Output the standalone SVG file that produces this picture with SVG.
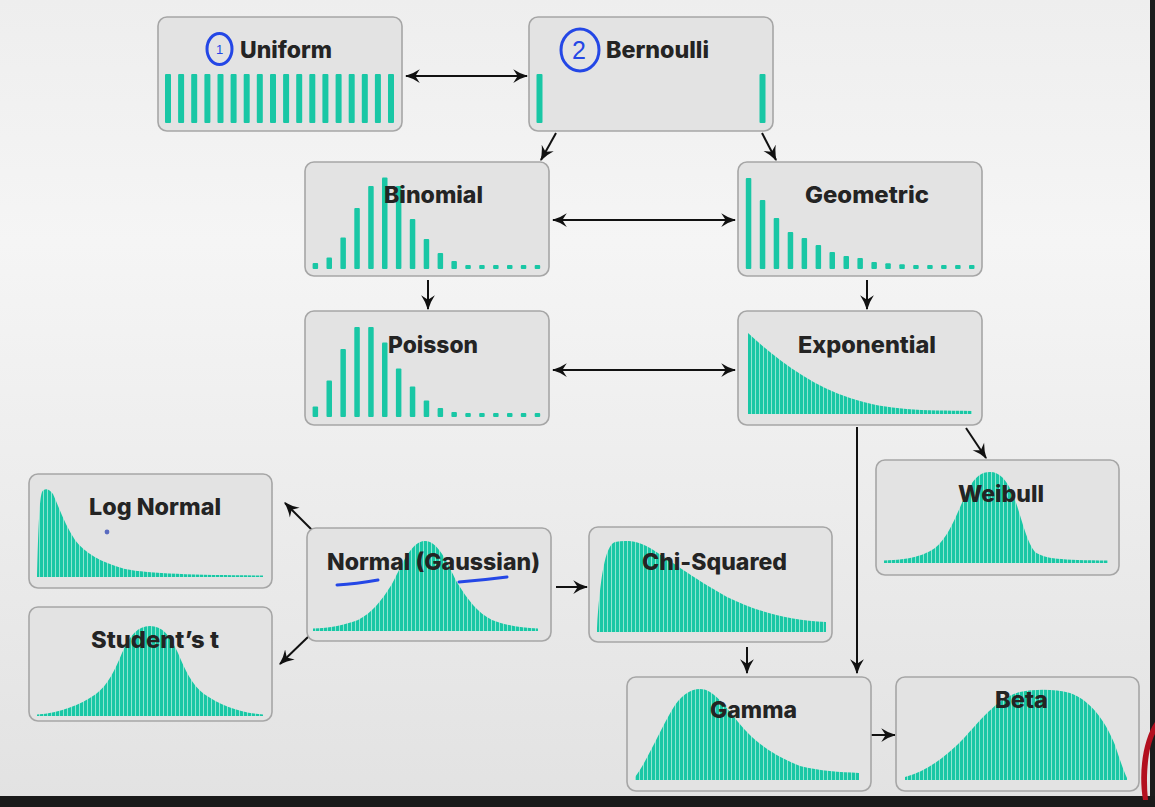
<svg xmlns="http://www.w3.org/2000/svg" width="1155" height="807" viewBox="0 0 1155 807">
<defs>
<linearGradient id="bg" x1="0" y1="0" x2="0" y2="1">
<stop offset="0" stop-color="#eeeeee"/>
<stop offset="0.3" stop-color="#f5f5f5"/>
<stop offset="1" stop-color="#e2e2e2"/>
</linearGradient>
<pattern id="stripes" patternUnits="userSpaceOnUse" width="4" height="10">
<rect x="0" y="0" width="4" height="10" fill="#8ee5d1"/>
<rect x="0" y="0" width="3" height="10" fill="#19c7a5"/>
</pattern>
<marker id="ah" viewBox="0 0 12 12" refX="11" refY="6" markerWidth="15" markerHeight="15" markerUnits="userSpaceOnUse" orient="auto-start-reverse">
<path d="M0,0.5 Q5,4 12,6 Q5,8 0,11.5 L3.5,6 Z" fill="#111"/>
</marker>
<style>
.box{fill:#e3e3e3;stroke:#a6a6a6;stroke-width:1.6}
.lbl{font-family:Inter,"Liberation Sans",sans-serif;font-weight:800;font-size:22.5px;fill:#242424}
.bar{fill:#19c7a5}
.curve{fill:url(#stripes)}
.conn{stroke:#111;stroke-width:2;fill:none}
.ink{stroke:#2447e6;stroke-width:3;fill:none;stroke-linecap:round}
.inkt{font-family:"Liberation Sans",sans-serif;fill:#2447e6}
</style>
</defs>
<rect x="0" y="0" width="1155" height="807" fill="url(#bg)"/>
<rect x="1150" y="0" width="5" height="807" fill="#1c1c1c"/>
<rect x="0" y="796" width="1155" height="11" fill="#1a1a1a"/>
<path d="M1155,722 C1144,738 1138,770 1143,800 L1148,800 C1145,772 1149,745 1155,734 Z" fill="#b3101f"/>

<g id="connectors">
<line class="conn" x1="406" y1="76" x2="527" y2="76" marker-start="url(#ah)" marker-end="url(#ah)"/>
<line class="conn" x1="556" y1="133" x2="541" y2="160" marker-end="url(#ah)"/>
<line class="conn" x1="762" y1="133" x2="776" y2="160" marker-end="url(#ah)"/>
<line class="conn" x1="553" y1="220" x2="735" y2="220" marker-start="url(#ah)" marker-end="url(#ah)"/>
<line class="conn" x1="428" y1="280" x2="428" y2="309" marker-end="url(#ah)"/>
<line class="conn" x1="867" y1="280" x2="867" y2="309" marker-end="url(#ah)"/>
<line class="conn" x1="553" y1="370" x2="735" y2="370" marker-start="url(#ah)" marker-end="url(#ah)"/>
<line class="conn" x1="966" y1="428" x2="986" y2="458" marker-end="url(#ah)"/>
<line class="conn" x1="857" y1="427" x2="857" y2="673" marker-end="url(#ah)"/>
<line class="conn" x1="313" y1="531" x2="285" y2="503" marker-end="url(#ah)"/>
<line class="conn" x1="309" y1="636" x2="280" y2="664" marker-end="url(#ah)"/>
<line class="conn" x1="556" y1="587" x2="587" y2="587" marker-end="url(#ah)"/>
<line class="conn" x1="747" y1="647" x2="747" y2="673" marker-end="url(#ah)"/>
<line class="conn" x1="871" y1="735" x2="895" y2="735" marker-end="url(#ah)"/>
</g>

<g id="uniform">
<rect class="box" x="158" y="17" width="244" height="114" rx="9"/>
<g class="bar">
<rect x="165" y="74" width="6" height="49" rx="1"/><rect x="178.1" y="74" width="6" height="49" rx="1"/><rect x="191.2" y="74" width="6" height="49" rx="1"/><rect x="204.4" y="74" width="6" height="49" rx="1"/><rect x="217.5" y="74" width="6" height="49" rx="1"/><rect x="230.6" y="74" width="6" height="49" rx="1"/><rect x="243.7" y="74" width="6" height="49" rx="1"/><rect x="256.8" y="74" width="6" height="49" rx="1"/><rect x="270" y="74" width="6" height="49" rx="1"/><rect x="283.1" y="74" width="6" height="49" rx="1"/><rect x="296.2" y="74" width="6" height="49" rx="1"/><rect x="309.3" y="74" width="6" height="49" rx="1"/><rect x="322.4" y="74" width="6" height="49" rx="1"/><rect x="335.6" y="74" width="6" height="49" rx="1"/><rect x="348.7" y="74" width="6" height="49" rx="1"/><rect x="361.8" y="74" width="6" height="49" rx="1"/><rect x="374.9" y="74" width="6" height="49" rx="1"/><rect x="388" y="74" width="6" height="49" rx="1"/>
</g>
<text class="lbl" x="240" y="58" textLength="92" lengthAdjust="spacingAndGlyphs">Uniform</text>
<ellipse class="ink" cx="219.5" cy="49" rx="12.5" ry="15.5"/>
<text class="inkt" x="216" y="54" font-size="13">1</text>
</g>

<g id="bernoulli">
<rect class="box" x="529" y="17" width="244" height="114" rx="9"/>
<rect class="bar" x="536.5" y="74" width="6" height="49" rx="1"/>
<rect class="bar" x="759.5" y="74" width="6" height="49" rx="1"/>
<text class="lbl" x="606" y="58" textLength="103" lengthAdjust="spacingAndGlyphs">Bernoulli</text>
<ellipse class="ink" cx="580" cy="50" rx="19" ry="21"/>
<text class="inkt" x="572" y="59" font-size="25">2</text>
</g>

<g id="binomial">
<rect class="box" x="305" y="162" width="244" height="114" rx="9"/>
<g class="bar">
<rect x="312.6" y="263" width="5.5" height="6" rx="1"/><rect x="326.5" y="257.5" width="5.5" height="11.5" rx="1"/><rect x="340.4" y="237.5" width="5.5" height="31.5" rx="1"/><rect x="354.3" y="208" width="5.5" height="61" rx="1"/><rect x="368.2" y="186" width="5.5" height="83" rx="1"/><rect x="382" y="177.5" width="5.5" height="91.5" rx="1"/><rect x="395.9" y="186" width="5.5" height="83" rx="1"/><rect x="409.8" y="219" width="5.5" height="50" rx="1"/><rect x="423.7" y="239" width="5.5" height="30" rx="1"/><rect x="437.6" y="253" width="5.5" height="16" rx="1"/><rect x="451.4" y="261" width="5.5" height="8" rx="1"/><rect x="465.3" y="265" width="5.5" height="4" rx="1"/><rect x="479.2" y="265" width="5.5" height="4" rx="1"/><rect x="493.1" y="265" width="5.5" height="4" rx="1"/><rect x="507" y="265" width="5.5" height="4" rx="1"/><rect x="520.8" y="265" width="5.5" height="4" rx="1"/><rect x="534.7" y="265" width="5.5" height="4" rx="1"/>
</g>
<text class="lbl" x="384" y="203" textLength="99" lengthAdjust="spacingAndGlyphs">Binomial</text>
</g>

<g id="geometric">
<rect class="box" x="738" y="162" width="244" height="114" rx="9"/>
<g class="bar">
<rect x="745.8" y="178" width="5.5" height="91" rx="1"/><rect x="759.8" y="200" width="5.5" height="69" rx="1"/><rect x="773.7" y="218" width="5.5" height="51" rx="1"/><rect x="787.7" y="232" width="5.5" height="37" rx="1"/><rect x="801.6" y="238" width="5.5" height="31" rx="1"/><rect x="815.6" y="245" width="5.5" height="24" rx="1"/><rect x="829.5" y="252" width="5.5" height="17" rx="1"/><rect x="843.5" y="256" width="5.5" height="13" rx="1"/><rect x="857.4" y="258" width="5.5" height="11" rx="1"/><rect x="871.4" y="262" width="5.5" height="7" rx="1"/><rect x="885.3" y="263.3" width="5.5" height="5.7" rx="1"/><rect x="899.3" y="264.3" width="5.5" height="4.7" rx="1"/><rect x="913.2" y="265" width="5.5" height="4" rx="1"/><rect x="927.2" y="265" width="5.5" height="4" rx="1"/><rect x="941.1" y="265" width="5.5" height="4" rx="1"/><rect x="955.1" y="265" width="5.5" height="4" rx="1"/><rect x="969" y="265" width="5.5" height="4" rx="1"/>
</g>
<text class="lbl" x="805" y="203" textLength="124" lengthAdjust="spacingAndGlyphs">Geometric</text>
</g>

<g id="poisson">
<rect class="box" x="305" y="311" width="244" height="114" rx="9"/>
<g class="bar">
<rect x="312.6" y="406.5" width="5.5" height="10.5" rx="1"/><rect x="326.5" y="380.5" width="5.5" height="36.5" rx="1"/><rect x="340.4" y="349" width="5.5" height="68" rx="1"/><rect x="354.3" y="327" width="5.5" height="90" rx="1"/><rect x="368.2" y="327" width="5.5" height="90" rx="1"/><rect x="382" y="342.5" width="5.5" height="74.5" rx="1"/><rect x="395.9" y="368.5" width="5.5" height="48.5" rx="1"/><rect x="409.8" y="386.5" width="5.5" height="30.5" rx="1"/><rect x="423.7" y="400.5" width="5.5" height="16.5" rx="1"/><rect x="437.6" y="408" width="5.5" height="9" rx="1"/><rect x="451.4" y="412" width="5.5" height="5" rx="1"/><rect x="465.3" y="413" width="5.5" height="4" rx="1"/><rect x="479.2" y="413" width="5.5" height="4" rx="1"/><rect x="493.1" y="413" width="5.5" height="4" rx="1"/><rect x="507" y="413" width="5.5" height="4" rx="1"/><rect x="520.8" y="413" width="5.5" height="4" rx="1"/><rect x="534.7" y="413" width="5.5" height="4" rx="1"/>
</g>
<text class="lbl" x="388" y="353" textLength="90" lengthAdjust="spacingAndGlyphs">Poisson</text>
</g>

<g id="exponential">
<rect class="box" x="738" y="311" width="244" height="114" rx="9"/>
<path class="curve" d="M748,414 L748,333 C775,358 810,385 850,398 S920,410 972,411 L972,414 Z"/>
<text class="lbl" x="798" y="353" textLength="138" lengthAdjust="spacingAndGlyphs">Exponential</text>
</g>

<g id="weibull">
<rect class="box" x="876" y="460" width="243" height="115" rx="9"/>
<path class="curve" d="M884,563 L884,560.5 C910,560 925,555 935,548 C950,536 958,510 968,490 C975,476 982,472 990,472 C1000,472 1006,480 1012,492 C1020,510 1025,540 1035,552 C1045,559 1060,560 1108,560.5 L1108,563 Z"/>
<text class="lbl" x="958" y="502" textLength="86" lengthAdjust="spacingAndGlyphs">Weibull</text>
</g>

<g id="log-normal">
<rect class="box" x="29" y="474" width="243" height="114" rx="9"/>
<path class="curve" d="M37,577 L37,575 C38,540 39,500 42,492 C44,488 49,488 53,494 C58,505 65,525 75,540 C85,553 100,562 125,569 C150,574 200,575 263,575.5 L263,577 Z"/>
<text class="lbl" x="89" y="515" textLength="132" lengthAdjust="spacingAndGlyphs">Log Normal</text>
<circle cx="107" cy="532" r="2.4" fill="#5a6bc0"/>
</g>

<g id="students-t">
<rect class="box" x="29" y="607" width="243" height="114" rx="9"/>
<path class="curve" d="M37,716 L37,714.5 C60,713 80,705 96,694 C108,685 115,670 122,653 C130,635 138,626 150,626 C162,626 170,635 178,653 C185,670 192,685 204,694 C220,705 240,713 263,714.5 L263,716 Z"/>
<text class="lbl" x="91" y="648" textLength="128" lengthAdjust="spacingAndGlyphs">Student’s t</text>
</g>

<g id="normal">
<rect class="box" x="307" y="528" width="244" height="113" rx="9"/>
<path class="curve" d="M313,631 L313,628.5 C330,628 345,625 358,620 C372,613 382,600 392,584 C400,570 410,541 425,541 C440,541 450,570 458,584 C468,600 478,613 492,620 C505,625 520,628 538,628.5 L538,631 Z"/>
<text class="lbl" x="327" y="570" textLength="213" lengthAdjust="spacingAndGlyphs">Normal (Gaussian)</text>
<path class="ink" d="M337,585 Q356,584 378,580"/>
<path class="ink" d="M459,582 Q484,580 507,577"/>
</g>

<g id="chi-squared">
<rect class="box" x="589" y="527" width="243" height="115" rx="9"/>
<path class="curve" d="M597,632 L597,628 C600,580 605,545 615,542 C625,540 637,540 650,548 C670,560 690,576 727,597 C760,613 790,620 826,622 L826,632 Z"/>
<text class="lbl" x="642" y="570" textLength="145" lengthAdjust="spacingAndGlyphs">Chi-Squared</text>
</g>

<g id="gamma">
<rect class="box" x="627" y="677" width="244" height="114" rx="9"/>
<path class="curve" d="M635,780 L635,777 C645,765 660,730 672,710 C680,696 690,689 700,689 C712,689 722,702 735,718 C748,735 765,752 800,766 C820,771 840,772 859,773 L859,780 Z"/>
<text class="lbl" x="710" y="718" textLength="87" lengthAdjust="spacingAndGlyphs">Gamma</text>
</g>

<g id="beta">
<rect class="box" x="896" y="677" width="243" height="114" rx="9"/>
<path class="curve" d="M905,780 L905,777 C925,772 945,758 965,737 C985,715 1000,697 1020,692 C1035,689 1055,689 1070,693 C1090,700 1105,720 1115,745 C1120,760 1124,772 1127,778 L1127,780 Z"/>
<text class="lbl" x="995" y="708" textLength="53" lengthAdjust="spacingAndGlyphs">Beta</text>
</g>
</svg>
